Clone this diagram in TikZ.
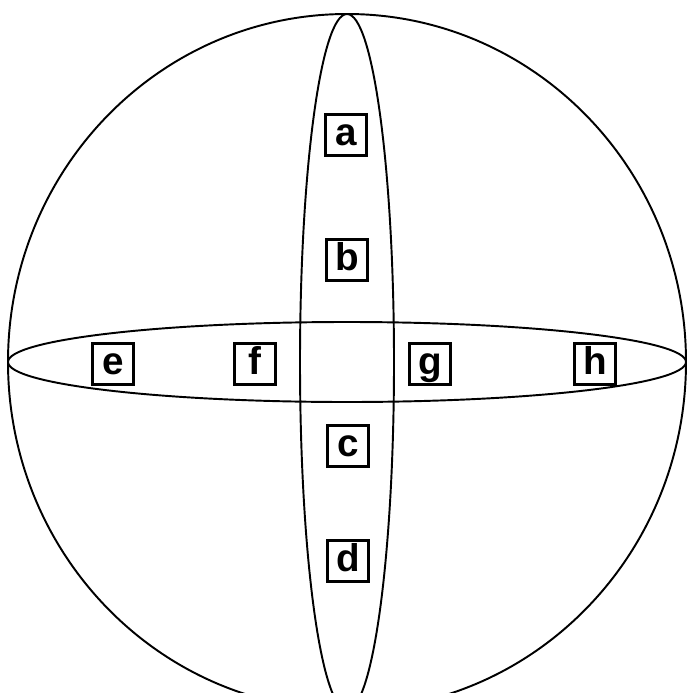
\documentclass[tikz,border=0pt]{standalone}
\usepackage{fontspec}
\setmainfont{Liberation Sans}
\usepackage{tikz}
\usetikzlibrary{positioning}

\begin{document}
\begin{tikzpicture}[
  x=0.02cm, y=-0.02cm,
  font=\fontsize{22}{24}\selectfont\bfseries,
  box/.style={draw, line width=1.2pt, minimum width=0.82cm, minimum height=0.82cm,
    inner sep=0pt, text height=16.5pt, text depth=4.8pt},
  rim/.style={draw, line width=1.1pt}
]
\useasboundingbox (0,0) rectangle (688,693);
\draw[rim] (347,362) ellipse [x radius=339, y radius=348];
\draw[rim] (347,362) ellipse [x radius=47, y radius=348];
\draw[rim] (347,362) ellipse [x radius=339, y radius=40];
\node[box] (a) at (346,135) {a};
\node[box] (b) at (347,260) {b};
\node[box] (c) at (348,446) {c};
\node[box] (d) at (348,561) {d};
\node[box] (e) at (113,364) {e};
\node[box] (f) at (255,364) {f};
\node[box] (g) at (430,364) {g};
\node[box] (h) at (595,364) {h};
\end{tikzpicture}
\end{document}
